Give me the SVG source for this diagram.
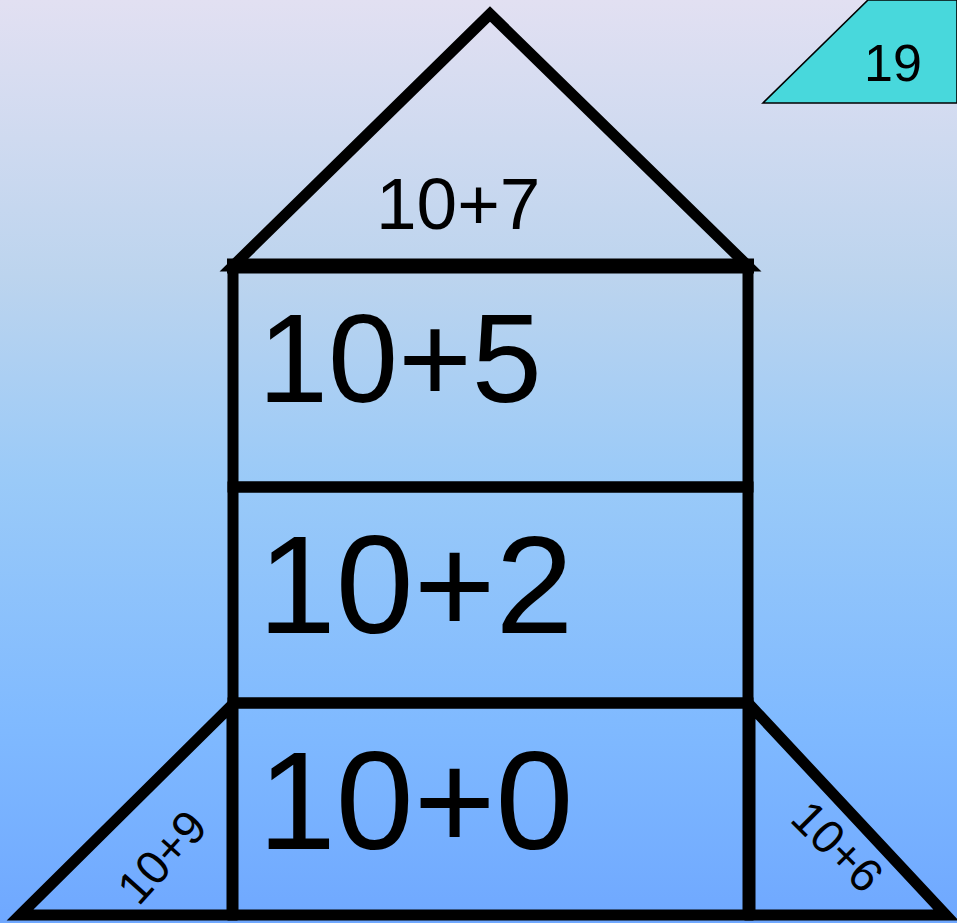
<svg xmlns="http://www.w3.org/2000/svg" width="957" height="923" viewBox="0 0 957 923">
<defs>
<linearGradient id="bg" x1="0" y1="0" x2="0" y2="1">
<stop offset="0" stop-color="#E2E0F2"/>
<stop offset="0.3" stop-color="#BCD4EE"/>
<stop offset="0.52" stop-color="#9ACAF8"/>
<stop offset="0.78" stop-color="#80BAFF"/>
<stop offset="1" stop-color="#6FA8FF"/>
</linearGradient>
<style>
.ln{fill:none;stroke:#000;stroke-width:11;stroke-linejoin:miter}
.t{font-family:"Liberation Sans",Arial,sans-serif;fill:#000}
</style>
</defs>
<rect width="957" height="923" fill="url(#bg)"/>
<g id="badge">
<polygon points="763,103 957,103 957,0 868,0" fill="#48D8DC" stroke="#000" stroke-width="1.6"/>
<text class="t" x="893" y="81" font-size="52" text-anchor="middle">19</text>
</g>
<g id="roof">
<polygon class="ln" points="490,14 233,266 748,266"/>
<text class="t" x="376" y="229" font-size="73">10+7</text>
</g>
<g id="fin-left">
<polygon class="ln" points="20,915 232,705 232,915"/>
<text class="t" x="0" y="0" font-size="47" text-anchor="middle" transform="translate(174,868) rotate(-48)">10+9</text>
</g>
<g id="fin-right">
<polygon class="ln" points="946,915 750,705 750,915"/>
<text class="t" x="0" y="0" font-size="47" text-anchor="middle" transform="translate(826,858) rotate(45)">10+6</text>
</g>
<g id="box1">
<rect class="ln" x="233" y="266" width="515" height="221"/>
<line x1="227" y1="266" x2="754" y2="266" stroke="#000" stroke-width="15"/>
<text class="t" x="258" y="402" font-size="126">10+5</text>
</g>
<g id="box2">
<rect class="ln" x="233" y="487" width="515" height="216"/>
<text class="t" x="258" y="633" font-size="140">10+2</text>
</g>
<g id="box3">
<rect class="ln" x="233" y="703" width="515" height="212"/>
<text class="t" x="258" y="849" font-size="140">10+0</text>
</g>
<g id="connectors"/>
</svg>
